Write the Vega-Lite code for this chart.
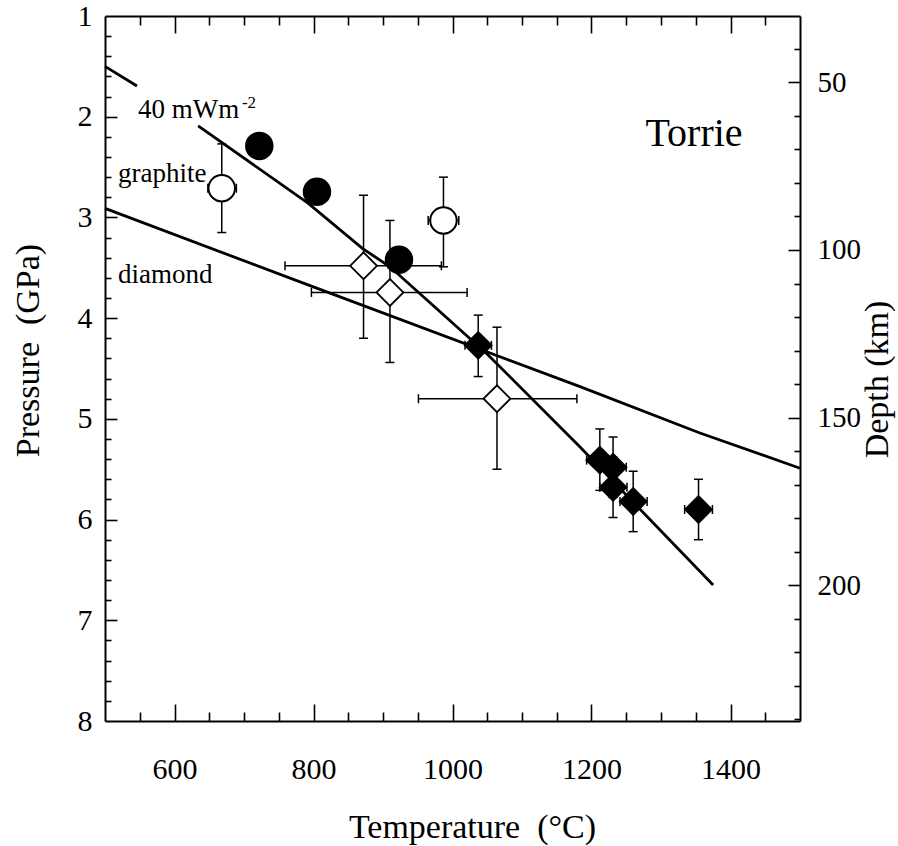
{
  "$schema": "https://vega.github.io/schema/vega-lite/v6.json",
  "width": 695,
  "height": 705,
  "autosize": {"type": "none"},
  "padding": {"left": 105, "top": 16, "right": 98, "bottom": 125},
  "background": "white",
  "config": {
    "view": {"stroke": null},
    "font": "Liberation Serif, Times New Roman, Times, DejaVu Serif, serif",
    "text": {"font": "Liberation Serif, Times New Roman, Times, DejaVu Serif, serif"},
    "axis": {
      "labelFont": "Liberation Serif, Times New Roman, Times, DejaVu Serif, serif",
      "titleFont": "Liberation Serif, Times New Roman, Times, DejaVu Serif, serif",
      "labelColor": "black",
      "titleColor": "black",
      "domainColor": "black",
      "tickColor": "black",
      "grid": false,
      "titleFontWeight": "normal",
      "labelFlush": false,
      "labelOverlap": false
    }
  },
  "datasets": {
    "geo": [
      {"T": 500, "P": 1.5, "seg": "a"},
      {"T": 546, "P": 1.695, "seg": "a"},
      {"T": 634, "P": 2.09, "seg": "b"},
      {"T": 792.5, "P": 2.86, "seg": "b"},
      {"T": 870.8, "P": 3.31, "seg": "b"},
      {"T": 910, "P": 3.49, "seg": "b"},
      {"T": 1049, "P": 4.35, "seg": "b"},
      {"T": 1183.5, "P": 5.28, "seg": "b"},
      {"T": 1375, "P": 6.65, "seg": "b"}
    ],
    "gd": [
      {"T": 500, "P": 2.91},
      {"T": 780.6, "P": 3.64},
      {"T": 1183.5, "P": 4.68},
      {"T": 1356, "P": 5.14},
      {"T": 1500, "P": 5.49}
    ],
    "pts": [
      {"T": 668, "P": 2.71, "Tlo": 648, "Thi": 689, "Plo": 2.27, "Phi": 3.15, "shape": "circle", "fill": "open"},
      {"T": 987, "P": 3.03, "Tlo": 965, "Thi": 1009, "Plo": 2.6, "Phi": 3.49, "shape": "circle", "fill": "open"},
      {"T": 722, "P": 2.29, "shape": "circle", "fill": "filled"},
      {"T": 805, "P": 2.745, "shape": "circle", "fill": "filled"},
      {"T": 923, "P": 3.42, "shape": "circle", "fill": "filled"},
      {"T": 872, "P": 3.48, "Tlo": 759, "Thi": 984, "Plo": 2.78, "Phi": 4.2, "shape": "diamond", "fill": "open"},
      {"T": 910, "P": 3.745, "Tlo": 797, "Thi": 1021, "Plo": 3.03, "Phi": 4.44, "shape": "diamond", "fill": "open"},
      {"T": 1064, "P": 4.8, "Tlo": 951, "Thi": 1179, "Plo": 4.09, "Phi": 5.5, "shape": "diamond", "fill": "open"},
      {"T": 1037, "P": 4.27, "Tlo": 1018, "Thi": 1056, "Plo": 3.97, "Phi": 4.58, "shape": "diamond", "fill": "filled"},
      {"T": 1212, "P": 5.41, "Tlo": 1193, "Thi": 1231, "Plo": 5.1, "Phi": 5.71, "shape": "diamond", "fill": "filled"},
      {"T": 1231, "P": 5.48, "Tlo": 1212, "Thi": 1250, "Plo": 5.18, "Phi": 5.78, "shape": "diamond", "fill": "filled"},
      {"T": 1231, "P": 5.68, "Tlo": 1212, "Thi": 1251, "Plo": 5.38, "Phi": 5.98, "shape": "diamond", "fill": "filled"},
      {"T": 1260, "P": 5.82, "Tlo": 1241, "Thi": 1280, "Plo": 5.52, "Phi": 6.12, "shape": "diamond", "fill": "filled"},
      {"T": 1354, "P": 5.9, "Tlo": 1334, "Thi": 1374, "Plo": 5.6, "Phi": 6.2, "shape": "diamond", "fill": "filled"}
    ],
    "notes": [
      {"T": 547.5, "P": 2.013, "label": "40 mWm"},
      {"T": 518.7, "P": 2.65, "label": "graphite"},
      {"T": 518.7, "P": 3.65, "label": "diamond"}
    ],
    "sup": [
      {"T": 697, "P": 1.914, "label": "-2"}
    ],
    "site": [
      {"T": 1347.5, "P": 2.29, "label": "Torrie"}
    ],
    "depth": [
      {"depth": 50}, {"depth": 100}, {"depth": 150}, {"depth": 200}
    ]
  },
  "resolve": {
    "scale": {"y": "independent"},
    "axis": {"x": "independent", "y": "independent"}
  },
  "layer": [
    {
      "data": {"name": "geo"},
      "mark": {"type": "line", "color": "black", "strokeWidth": 2.8},
      "encoding": {
        "x": {
          "field": "T", "type": "quantitative",
          "scale": {"domain": [500, 1500], "nice": false, "zero": false},
          "axis": {
            "orient": "bottom",
            "values": [600, 800, 1000, 1200, 1400],
            "format": "d",
            "ticks": false,
            "domain": true,
            "domainWidth": 2,
            "labelFontSize": 30,
            "labelPadding": 33,
            "title": "Temperature\u00a0 (°C)",
            "titleFontSize": 34,
            "titleX": 367,
            "titleY": 116,
            "titleBaseline": "alphabetic"
          }
        },
        "y": {
          "field": "P", "type": "quantitative",
          "scale": {"domain": [1, 8], "reverse": true, "nice": false, "zero": false},
          "axis": {
            "orient": "left",
            "values": [1, 2, 3, 4, 5, 6, 7, 8],
            "format": "d",
            "ticks": false,
            "domain": true,
            "domainWidth": 2,
            "labelFontSize": 30,
            "labelPadding": 13,
            "title": "Pressure\u00a0 (GPa)",
            "titleFontSize": 34,
            "titleAngle": -90,
            "titleX": -67,
            "titleY": 334,
            "titleBaseline": "alphabetic"
          }
        },
        "detail": {"field": "seg", "type": "nominal"}
      }
    },
    {
      "data": {"name": "gd"},
      "mark": {"type": "line", "color": "black", "strokeWidth": 2.8},
      "encoding": {
        "x": {
          "field": "T", "type": "quantitative",
          "scale": {"domain": [500, 1500], "nice": false, "zero": false},
          "axis": {
            "orient": "top",
            "values": [550, 600, 650, 700, 750, 800, 850, 900, 950, 1000, 1050, 1100, 1150, 1200, 1250, 1300, 1350, 1400, 1450],
            "labels": false,
            "domain": true,
            "domainWidth": 2,
            "ticks": true,
            "tickWidth": 1.6,
            "tickSize": {"condition": {"test": "datum.value % 200 === 0", "value": -17}, "value": -9},
            "title": null
          }
        },
        "y": {
          "field": "P", "type": "quantitative",
          "scale": {"domain": [1, 8], "reverse": true, "nice": false, "zero": false},
          "axis": {
            "orient": "left",
            "values": [1.2, 1.4, 1.6, 1.8, 2, 2.2, 2.4, 2.6, 2.8, 3, 3.2, 3.4, 3.6, 3.8, 4, 4.2, 4.4, 4.6, 4.8, 5, 5.2, 5.4, 5.6, 5.8, 6, 6.2, 6.4, 6.6, 6.8, 7, 7.2, 7.4, 7.6, 7.8],
            "labels": false,
            "domain": false,
            "ticks": true,
            "tickWidth": 1.6,
            "tickSize": {"condition": {"test": "abs(datum.value - round(datum.value)) < 0.01", "value": -12}, "value": -6},
            "title": null
          }
        }
      }
    },
    {
      "data": {"name": "pts"},
      "transform": [{"filter": {"field": "Tlo", "valid": true}}],
      "mark": {"type": "rule", "color": "black", "strokeWidth": 1.5},
      "encoding": {
        "x": {
          "field": "Tlo", "type": "quantitative",
          "scale": {"domain": [500, 1500], "nice": false, "zero": false},
          "axis": {
            "orient": "bottom",
            "values": [550, 600, 650, 700, 750, 800, 850, 900, 950, 1000, 1050, 1100, 1150, 1200, 1250, 1300, 1350, 1400, 1450],
            "labels": false,
            "domain": false,
            "ticks": true,
            "tickWidth": 1.6,
            "tickSize": {"condition": {"test": "datum.value % 200 === 0", "value": -17}, "value": -9},
            "title": null
          }
        },
        "x2": {"field": "Thi"},
        "y": {
          "field": "P", "type": "quantitative",
          "scale": {"domain": [1, 8], "reverse": true, "nice": false, "zero": false},
          "axis": null
        }
      }
    },
    {
      "data": {"name": "pts"},
      "transform": [{"filter": {"field": "Plo", "valid": true}}],
      "mark": {"type": "rule", "color": "black", "strokeWidth": 1.5},
      "encoding": {
        "x": {"field": "T", "type": "quantitative", "scale": {"domain": [500, 1500], "nice": false, "zero": false}, "axis": null},
        "y": {"field": "Plo", "type": "quantitative", "scale": {"domain": [1, 8], "reverse": true, "nice": false, "zero": false}, "axis": null},
        "y2": {"field": "Phi"}
      }
    },
    {
      "data": {"name": "pts"},
      "transform": [{"filter": {"field": "Tlo", "valid": true}}],
      "mark": {"type": "tick", "orient": "vertical", "size": 9, "thickness": 1.5, "color": "black", "opacity": 1},
      "encoding": {
        "x": {"field": "Tlo", "type": "quantitative", "scale": {"domain": [500, 1500], "nice": false, "zero": false}, "axis": null},
        "y": {"field": "P", "type": "quantitative", "scale": {"domain": [1, 8], "reverse": true, "nice": false, "zero": false}, "axis": null}
      }
    },
    {
      "data": {"name": "pts"},
      "transform": [{"filter": {"field": "Thi", "valid": true}}],
      "mark": {"type": "tick", "orient": "vertical", "size": 9, "thickness": 1.5, "color": "black", "opacity": 1},
      "encoding": {
        "x": {"field": "Thi", "type": "quantitative", "scale": {"domain": [500, 1500], "nice": false, "zero": false}, "axis": null},
        "y": {"field": "P", "type": "quantitative", "scale": {"domain": [1, 8], "reverse": true, "nice": false, "zero": false}, "axis": null}
      }
    },
    {
      "data": {"name": "pts"},
      "transform": [{"filter": {"field": "Plo", "valid": true}}],
      "mark": {"type": "tick", "orient": "horizontal", "size": 9, "thickness": 1.5, "color": "black", "opacity": 1},
      "encoding": {
        "x": {"field": "T", "type": "quantitative", "scale": {"domain": [500, 1500], "nice": false, "zero": false}, "axis": null},
        "y": {"field": "Plo", "type": "quantitative", "scale": {"domain": [1, 8], "reverse": true, "nice": false, "zero": false}, "axis": null}
      }
    },
    {
      "data": {"name": "pts"},
      "transform": [{"filter": {"field": "Phi", "valid": true}}],
      "mark": {"type": "tick", "orient": "horizontal", "size": 9, "thickness": 1.5, "color": "black", "opacity": 1},
      "encoding": {
        "x": {"field": "T", "type": "quantitative", "scale": {"domain": [500, 1500], "nice": false, "zero": false}, "axis": null},
        "y": {"field": "Phi", "type": "quantitative", "scale": {"domain": [1, 8], "reverse": true, "nice": false, "zero": false}, "axis": null}
      }
    },
    {
      "data": {"name": "pts"},
      "transform": [{"filter": "datum.shape === 'circle'"}],
      "mark": {"type": "point", "shape": "circle", "filled": true, "size": 700, "stroke": "black", "strokeWidth": 2, "opacity": 1},
      "encoding": {
        "x": {"field": "T", "type": "quantitative", "scale": {"domain": [500, 1500], "nice": false, "zero": false}, "axis": null},
        "y": {"field": "P", "type": "quantitative", "scale": {"domain": [1, 8], "reverse": true, "nice": false, "zero": false}, "axis": null},
        "fill": {"field": "fill", "type": "nominal", "scale": {"domain": ["open", "filled"], "range": ["white", "black"]}, "legend": null}
      }
    },
    {
      "data": {"name": "pts"},
      "transform": [{"filter": "datum.shape === 'diamond'"}],
      "mark": {"type": "point", "shape": "diamond", "filled": true, "size": 720, "stroke": "black", "strokeWidth": 1.8, "opacity": 1},
      "encoding": {
        "x": {"field": "T", "type": "quantitative", "scale": {"domain": [500, 1500], "nice": false, "zero": false}, "axis": null},
        "y": {"field": "P", "type": "quantitative", "scale": {"domain": [1, 8], "reverse": true, "nice": false, "zero": false}, "axis": null},
        "fill": {"field": "fill", "type": "nominal", "scale": {"domain": ["open", "filled"], "range": ["white", "black"]}, "legend": null}
      }
    },
    {
      "data": {"name": "notes"},
      "mark": {"type": "text", "font": "Liberation Serif, Times New Roman, Times, DejaVu Serif, serif", "fontSize": 27, "align": "left", "baseline": "alphabetic", "color": "black"},
      "encoding": {
        "x": {"field": "T", "type": "quantitative", "scale": {"domain": [500, 1500], "nice": false, "zero": false}, "axis": null},
        "y": {"field": "P", "type": "quantitative", "scale": {"domain": [1, 8], "reverse": true, "nice": false, "zero": false}, "axis": null},
        "text": {"field": "label"}
      }
    },
    {
      "data": {"name": "sup"},
      "mark": {"type": "text", "font": "Liberation Serif, Times New Roman, Times, DejaVu Serif, serif", "fontSize": 17, "align": "left", "baseline": "alphabetic", "color": "black"},
      "encoding": {
        "x": {"field": "T", "type": "quantitative", "scale": {"domain": [500, 1500], "nice": false, "zero": false}, "axis": null},
        "y": {"field": "P", "type": "quantitative", "scale": {"domain": [1, 8], "reverse": true, "nice": false, "zero": false}, "axis": null},
        "text": {"field": "label"}
      }
    },
    {
      "data": {"name": "site"},
      "mark": {"type": "text", "font": "Liberation Serif, Times New Roman, Times, DejaVu Serif, serif", "fontSize": 40, "align": "center", "baseline": "alphabetic", "color": "black"},
      "encoding": {
        "x": {"field": "T", "type": "quantitative", "scale": {"domain": [500, 1500], "nice": false, "zero": false}, "axis": null},
        "y": {"field": "P", "type": "quantitative", "scale": {"domain": [1, 8], "reverse": true, "nice": false, "zero": false}, "axis": null},
        "text": {"field": "label"}
      }
    },
    {
      "data": {"name": "depth"},
      "mark": {"type": "point", "opacity": 0},
      "encoding": {
        "y": {
          "field": "depth", "type": "quantitative",
          "scale": {"domain": [30.2, 240.5], "reverse": true, "nice": false, "zero": false},
          "axis": {
            "orient": "right",
            "values": [50, 100, 150, 200],
            "format": "d",
            "ticks": false,
            "domain": true,
            "domainWidth": 2,
            "labelFontSize": 29,
            "labelPadding": 17,
            "title": "Depth (km)",
            "titleFontSize": 34,
            "titleAngle": -90,
            "titleX": 87,
            "titleY": 363,
            "titleBaseline": "alphabetic"
          }
        }
      }
    },
    {
      "data": {"name": "depth"},
      "mark": {"type": "point", "opacity": 0},
      "encoding": {
        "y": {
          "field": "depth", "type": "quantitative",
          "scale": {"domain": [30.2, 240.5], "reverse": true, "nice": false, "zero": false},
          "axis": {
            "orient": "right",
            "values": [40, 50, 60, 70, 80, 90, 100, 110, 120, 130, 140, 150, 160, 170, 180, 190, 200, 210, 220, 230, 240],
            "labels": false,
            "domain": false,
            "ticks": true,
            "tickWidth": 1.6,
            "tickSize": {"condition": {"test": "datum.value % 50 === 0", "value": -12}, "value": -6},
            "title": null
          }
        }
      }
    }
  ]
}
